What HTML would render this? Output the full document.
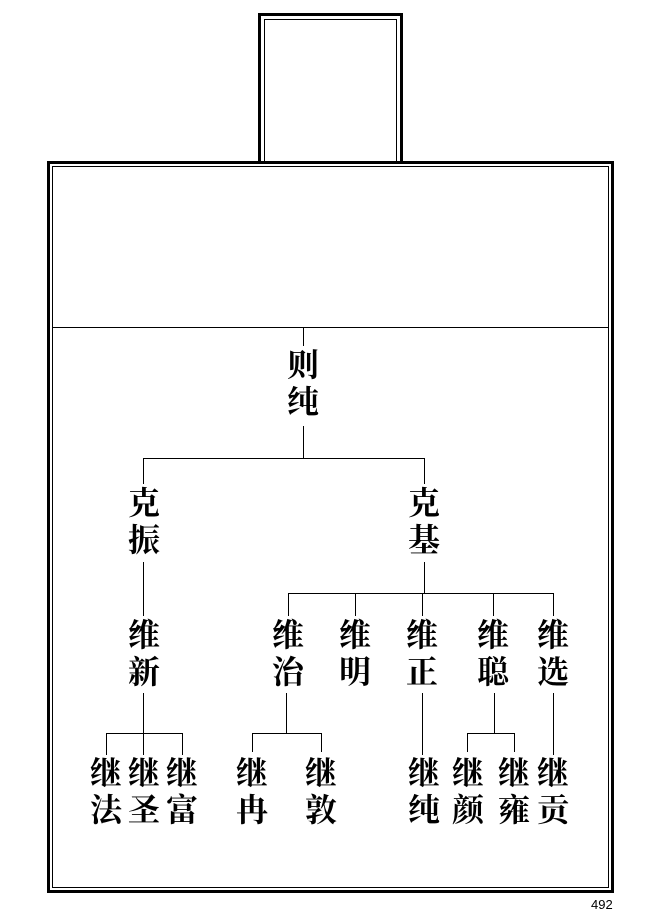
<!DOCTYPE html>
<html><head><meta charset="utf-8"><style>
body{margin:0;background:#fff;width:658px;height:916px;position:relative;overflow:hidden}
.b{position:absolute;box-sizing:border-box}
.t{position:absolute;width:44px;margin-left:-22px;text-align:center;font:bold 32px/37px "Noto Serif CJK SC","Noto Sans CJK SC",serif;color:#000}
svg{position:absolute;left:0;top:0}
</style></head><body>
<div class="b" style="left:258px;top:13px;width:145px;height:150px;border:3px solid #000;border-bottom:none"></div>
<div class="b" style="left:264px;top:19px;width:133px;height:144px;border:1px solid #000;border-bottom:none"></div>
<div class="b" style="left:47px;top:161px;width:567px;height:732px;border:3px solid #000"></div>
<div class="b" style="left:52px;top:166px;width:557px;height:722px;border:1px solid #000"></div>
<svg width="658" height="916" stroke="#000" stroke-width="1" fill="none" shape-rendering="crispEdges">
<line x1="52" y1="327.5" x2="609" y2="327.5"/>
<line x1="303.5" y1="327" x2="303.5" y2="346"/>
<line x1="303.5" y1="426" x2="303.5" y2="458"/>
<line x1="143" y1="458.5" x2="425" y2="458.5"/>
<line x1="143.5" y1="458" x2="143.5" y2="484"/>
<line x1="424.5" y1="458" x2="424.5" y2="484"/>
<line x1="143.5" y1="562" x2="143.5" y2="616"/>
<line x1="424.5" y1="562" x2="424.5" y2="593"/>
<line x1="288" y1="593.5" x2="554" y2="593.5"/>
<line x1="288.5" y1="593" x2="288.5" y2="616"/>
<line x1="355.5" y1="593" x2="355.5" y2="616"/>
<line x1="422.5" y1="593" x2="422.5" y2="616"/>
<line x1="493.5" y1="593" x2="493.5" y2="616"/>
<line x1="553.5" y1="593" x2="553.5" y2="616"/>
<line x1="143.5" y1="693" x2="143.5" y2="733"/>
<line x1="106" y1="733.5" x2="183" y2="733.5"/>
<line x1="106.5" y1="733" x2="106.5" y2="755"/>
<line x1="182.5" y1="733" x2="182.5" y2="755"/>
<line x1="143.5" y1="733" x2="143.5" y2="755"/>
<line x1="286.5" y1="693" x2="286.5" y2="733"/>
<line x1="252" y1="733.5" x2="322" y2="733.5"/>
<line x1="252.5" y1="733" x2="252.5" y2="752"/>
<line x1="321.5" y1="733" x2="321.5" y2="752"/>
<line x1="422.5" y1="693" x2="422.5" y2="755"/>
<line x1="494.5" y1="693" x2="494.5" y2="733"/>
<line x1="467" y1="733.5" x2="515" y2="733.5"/>
<line x1="467.5" y1="733" x2="467.5" y2="752"/>
<line x1="514.5" y1="733" x2="514.5" y2="752"/>
<line x1="553.5" y1="693" x2="553.5" y2="755"/>
</svg>
<div class="t" style="left:303px;top:345px">则<br>纯</div>
<div class="t" style="left:144px;top:483px">克<br>振</div>
<div class="t" style="left:424px;top:483px">克<br>基</div>
<div class="t" style="left:144px;top:615px">维<br>新</div>
<div class="t" style="left:288px;top:615px">维<br>治</div>
<div class="t" style="left:355px;top:615px">维<br>明</div>
<div class="t" style="left:422px;top:615px">维<br>正</div>
<div class="t" style="left:493px;top:615px">维<br>聪</div>
<div class="t" style="left:553px;top:615px">维<br>选</div>
<div class="t" style="left:106px;top:753px">继<br>法</div>
<div class="t" style="left:144px;top:753px">继<br>圣</div>
<div class="t" style="left:182px;top:753px">继<br>富</div>
<div class="t" style="left:252px;top:753px">继<br>冉</div>
<div class="t" style="left:321px;top:753px">继<br>敦</div>
<div class="t" style="left:424px;top:753px">继<br>纯</div>
<div class="t" style="left:468px;top:753px">继<br>颜</div>
<div class="t" style="left:514px;top:753px">继<br>雍</div>
<div class="t" style="left:553px;top:753px">继<br>贡</div>
<div style="position:absolute;left:591px;top:897px;font:13px 'Liberation Sans',sans-serif">492</div>
</body></html>
